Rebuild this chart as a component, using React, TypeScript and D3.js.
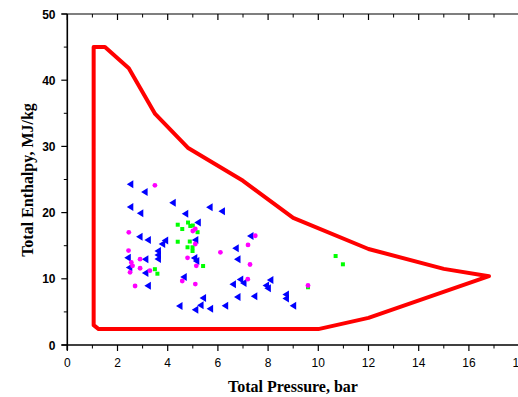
import React from "react";
import * as d3 from "d3";

const W = 518;
const H = 397;

const xTicks = [0, 2, 4, 6, 8, 10, 12, 14, 16, 18];
const yTicks = [0, 10, 20, 30, 40, 50];

// operating envelope (pressure bar, enthalpy MJ/kg)
const envelopeP = [1.05, 1.5, 2.45, 3.5, 4.8, 7.0, 9.0, 12.0, 15.0, 16.8, 12.0, 10.0, 1.25, 1.05];
const envelopeH = [45.0, 45.0, 41.8, 34.9, 29.8, 24.8, 19.2, 14.5, 11.5, 10.4, 4.1, 2.4, 2.4, 3.0];

// series 1 (blue triangles)
const triP = [2.51, 3.08, 2.51, 2.91, 4.2, 5.67, 6.16, 4.7, 5.2, 2.88, 3.21, 3.9, 3.78, 3.61, 3.61, 3.61, 2.41, 3.11, 2.47, 3.11, 3.21, 4.64, 4.47, 5.1, 5.06, 5.14, 7.3, 6.71, 6.78, 6.89, 6.6, 7.02, 8.09, 7.92, 7.99, 5.41, 6.78, 7.45, 8.71, 8.71, 9.0, 6.29, 5.69, 5.31, 5.1];
const triH = [24.27, 23.11, 20.85, 19.89, 21.5, 20.8, 20.2, 19.83, 18.5, 16.36, 15.86, 15.79, 15.26, 14.2, 13.6, 12.99, 13.19, 12.95, 11.71, 10.88, 8.96, 10.27, 5.89, 15.86, 13.14, 12.69, 16.47, 14.62, 12.95, 9.89, 9.17, 9.37, 9.82, 8.99, 8.56, 7.1, 7.25, 7.36, 7.63, 7.02, 5.94, 5.94, 5.48, 6.0, 5.33];

// series 2 (magenta circles)
const cirP = [3.49, 2.45, 2.44, 2.55, 2.6, 2.9, 2.9, 3.29, 2.5, 2.7, 4.58, 5.1, 5.14, 4.79, 6.1, 5.1, 5.0, 5.1, 7.49, 7.2, 7.28, 7.19, 9.59];
const cirH = [24.12, 17.02, 14.27, 12.46, 11.96, 12.96, 11.59, 11.22, 10.98, 8.91, 9.67, 9.21, 11.96, 13.17, 14.0, 17.52, 17.22, 15.26, 16.5, 15.11, 12.16, 9.94, 8.99];

// series 3 (green squares)
const sqP = [4.4, 4.58, 4.81, 4.9, 5.0, 5.19, 4.4, 4.88, 4.79, 4.99, 4.99, 5.41, 3.49, 3.59, 10.69, 10.98, 9.59];
const sqH = [18.17, 17.52, 18.5, 17.98, 18.05, 17.04, 15.6, 15.63, 14.76, 14.76, 14.2, 11.93, 11.45, 10.77, 13.44, 12.19, 8.72];

export default function App() {
  const x = d3.scaleLinear().domain([0, 18]).range([67.3, 519.1]);
  const y = d3.scaleLinear().domain([0, 50]).range([345, 14]);

  const env = envelopeP.map((p, i) => [x(p), y(envelopeH[i])] as [number, number]);
  const envPath = d3.line().curve(d3.curveLinearClosed)(env) || "";

  const xMinor = d3.range(1, 19, 2);
  const yMinor = d3.range(5, 50, 10);
  const x0 = x(0);
  const yb = y(0);
  const yt = y(50);

  const triPath = (cx: number, cy: number) =>
    `M${cx - 3.5},${cy} L${cx + 3},${cy - 4} L${cx + 3},${cy + 4} Z`;

  return (
    <svg width={W} height={H} style={{ position: "absolute", left: 0, top: 0, background: "#fff" }}>
      <rect x={0} y={0} width={W} height={H} fill="#fff" />
      {/* envelope */}
      <path d={envPath} fill="none" stroke="#ff0000" strokeWidth={4} strokeLinejoin="round" />

      {/* points */}
      {triP.map((p, i) => (
        <path key={"t" + i} d={triPath(x(p), y(triH[i]))} fill="#0000ff" />
      ))}
      {sqP.map((p, i) => (
        <rect key={"s" + i} x={x(p) - 2} y={y(sqH[i]) - 2} width={4} height={4} fill="#00ff00" />
      ))}
      {cirP.map((p, i) => (
        <circle key={"c" + i} cx={x(p)} cy={y(cirH[i])} r={2.4} fill="#ff00ff" />
      ))}

      {/* frame lines */}
      <line x1={61.5} x2={W} y1={yb} y2={yb} stroke="#000" strokeWidth={1.6} />
      <line x1={61.5} x2={W} y1={yt} y2={yt} stroke="#000" strokeWidth={1.2} />
      <line x1={x0} x2={x0} y1={yt} y2={yb + 5} stroke="#000" strokeWidth={1.6} />

      {/* bottom ticks */}
      {xTicks.map((t) => (
        <line key={"bx" + t} x1={x(t)} x2={x(t)} y1={yb} y2={yb + 6} stroke="#000" strokeWidth={1.2} />
      ))}
      {xMinor.map((t) => (
        <line key={"bm" + t} x1={x(t)} x2={x(t)} y1={yb} y2={yb + 3.5} stroke="#000" strokeWidth={1} />
      ))}
      {/* top ticks (inward) */}
      {xTicks.map((t) => (
        <line key={"tx" + t} x1={x(t)} x2={x(t)} y1={yt} y2={yt + 6} stroke="#000" strokeWidth={1.2} />
      ))}
      {xMinor.map((t) => (
        <line key={"tm" + t} x1={x(t)} x2={x(t)} y1={yt} y2={yt + 3.5} stroke="#000" strokeWidth={1} />
      ))}
      {/* left ticks */}
      {yTicks.map((t) => (
        <line key={"ly" + t} x1={x0 - 6} x2={x0} y1={y(t)} y2={y(t)} stroke="#000" strokeWidth={1.2} />
      ))}
      {yMinor.map((t) => (
        <line key={"lm" + t} x1={x0 - 3.5} x2={x0} y1={y(t)} y2={y(t)} stroke="#000" strokeWidth={1} />
      ))}

      {/* tick labels */}
      {xTicks.map((t) => (
        <text
          key={"xl" + t}
          x={x(t)}
          y={yb + 22}
          textAnchor="middle"
          fontFamily="'Liberation Sans', Arial, sans-serif"
          fontSize={12}
          fill="#000"
        >
          {t}
        </text>
      ))}
      {yTicks.map((t) => (
        <text
          key={"yl" + t}
          x={55.5}
          y={y(t) + 4.5}
          textAnchor="end"
          fontFamily="'Liberation Sans', Arial, sans-serif"
          fontWeight="bold"
          fontSize={12}
          fill="#000"
        >
          {t}
        </text>
      ))}

      {/* axis titles */}
      <text
        x={293}
        y={392}
        textAnchor="middle"
        fontFamily="'Liberation Serif', 'Times New Roman', serif"
        fontWeight="bold"
        fontSize={16}
        fill="#000"
      >
        Total Pressure, bar
      </text>
      <text
        transform={`translate(33,${180}) rotate(-90)`}
        textAnchor="middle"
        fontFamily="'Liberation Serif', 'Times New Roman', serif"
        fontWeight="bold"
        fontSize={16}
        fill="#000"
      >
        Total Enthalpy, MJ/kg
      </text>
    </svg>
  );
}
